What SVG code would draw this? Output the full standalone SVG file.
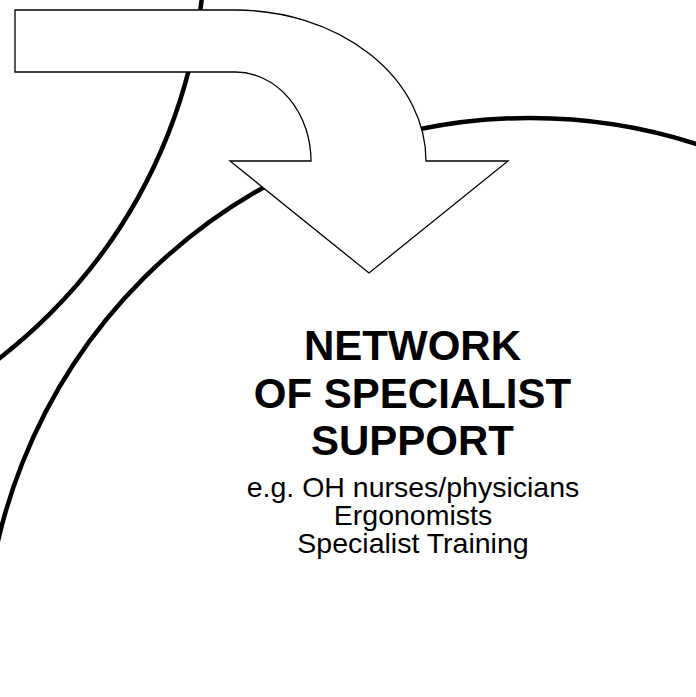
<svg xmlns="http://www.w3.org/2000/svg" width="696" height="697" viewBox="0 0 696 697">
<style>
.ring{fill:none;stroke:#000;stroke-width:4.5}
.arrow{fill:#fff;stroke:#000;stroke-width:1.3;stroke-linejoin:miter}
.title{font-family:"Liberation Sans",Arial,sans-serif;font-weight:bold;font-size:42px;fill:#000;text-anchor:middle}
.sub{font-family:"Liberation Sans",Arial,sans-serif;font-size:28.5px;fill:#000;text-anchor:middle}
</style>
<rect width="696" height="697" fill="#fff"/>
<g id="connectors">
<circle id="left-ring" class="ring" cx="-323" cy="-60" r="528"/>
<circle id="main-ring" class="ring" cx="530" cy="664" r="546"/>
<path id="flow-arrow" class="arrow" d="M15,10 H235 A191,151 0 0 1 426,161 H508 L369,273 L230,161 H311 A76,89 0 0 0 235,72 H15 Z"/>
</g>
<g id="node-network">
<text class="title" x="412.5" y="360">NETWORK</text>
<text class="title" x="412.5" y="408">OF SPECIALIST</text>
<text class="title" x="412.5" y="455">SUPPORT</text>
<text class="sub" x="413" y="497">e.g. OH nurses/physicians</text>
<text class="sub" x="413" y="525">Ergonomists</text>
<text class="sub" x="413" y="553">Specialist Training</text>
</g>
</svg>
